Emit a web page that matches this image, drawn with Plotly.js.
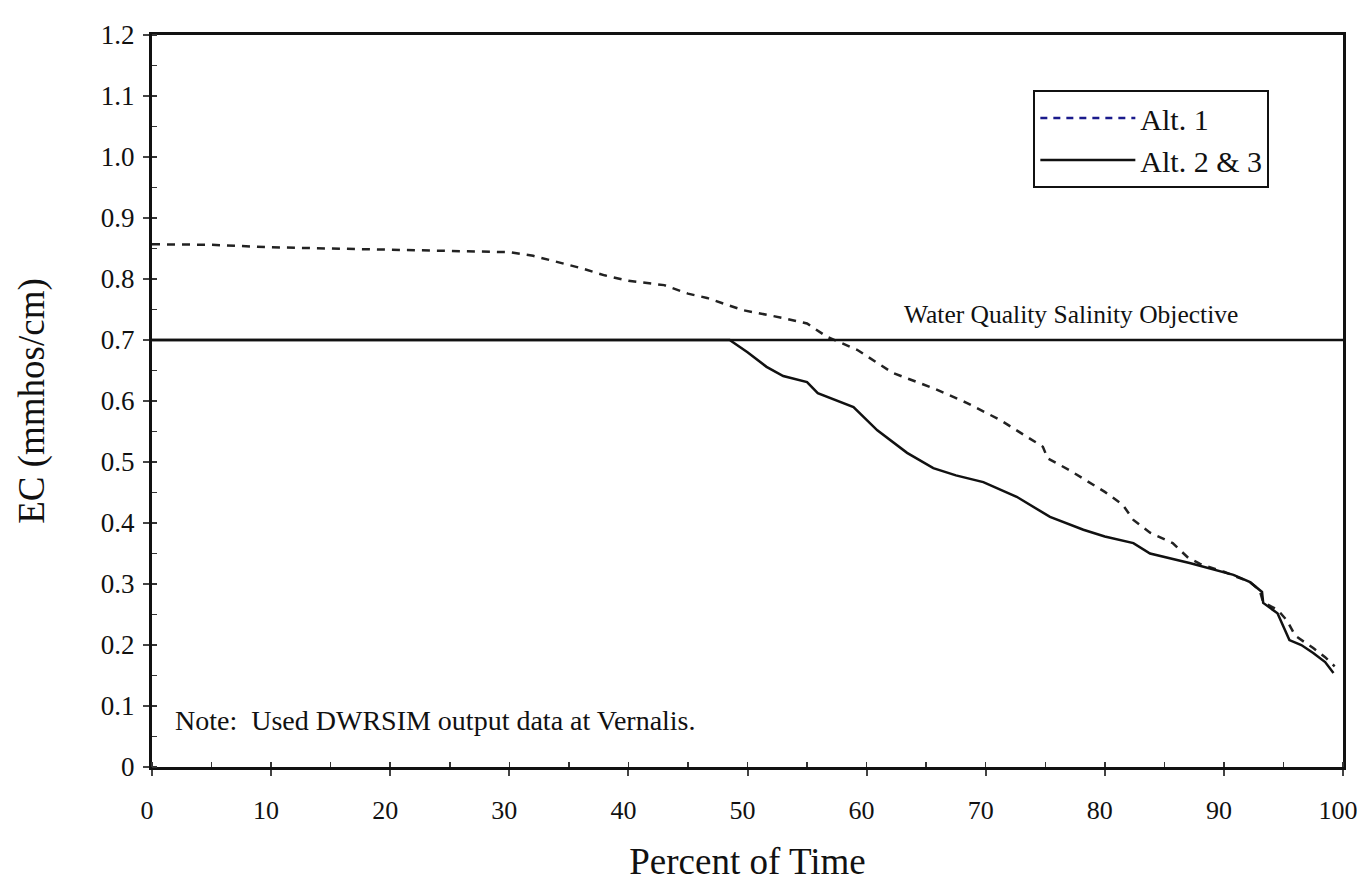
<!DOCTYPE html>
<html>
<head>
<meta charset="utf-8">
<script src="https://cdn.plot.ly/plotly-3.0.1.min.js"></script>
<style>html,body{margin:0;padding:0;background:#fff}#chart{width:1357px;height:882px}</style>
</head>
<body>
<div id="chart"></div>
<script>
// Percent of time (x) and EC values (y)
const alt1X = [0, 5, 10, 15, 20, 25, 30, 32, 34, 36, 38, 40, 43, 45, 46.6, 49.6, 53, 55, 56.7, 59.2, 62.2, 65.6, 68.4, 71.2, 74.8, 75.2, 77, 80, 81.5, 82.4, 83.8, 85.7, 87, 88, 90, 91, 92.2, 93, 93.3, 94.5, 95.3, 96, 97.5, 98.5, 99.3];
const alt1Y = [0.857, 0.856, 0.852, 0.850, 0.849, 0.847, 0.844, 0.838, 0.828, 0.818, 0.806, 0.797, 0.790, 0.776, 0.769, 0.749, 0.736, 0.727, 0.705, 0.684, 0.646, 0.621, 0.597, 0.569, 0.525, 0.506, 0.487, 0.451, 0.430, 0.405, 0.384, 0.367, 0.343, 0.333, 0.320, 0.312, 0.303, 0.290, 0.270, 0.258, 0.240, 0.215, 0.195, 0.180, 0.165];

const alt23X = [0, 10, 20, 30, 40, 48, 48.5, 50, 51.6, 53, 55, 55.9, 57, 58.9, 60.9, 63.4, 65.6, 67.5, 69.8, 72.6, 75.4, 78.2, 80, 82.4, 83.8, 87.2, 90.8, 92.2, 93.2, 93.3, 94.5, 95, 95.5, 96.5, 97.5, 98.5, 99.2];
const alt23Y = [0.700, 0.700, 0.700, 0.700, 0.700, 0.700, 0.700, 0.680, 0.656, 0.641, 0.631, 0.613, 0.605, 0.590, 0.552, 0.515, 0.490, 0.478, 0.467, 0.443, 0.410, 0.389, 0.378, 0.367, 0.350, 0.334, 0.315, 0.303, 0.287, 0.269, 0.252, 0.230, 0.208, 0.200, 0.187, 0.172, 0.154];

const objectiveValue = 0.7;
const objectiveLabel = "Water Quality Salinity Objective";
const noteText = "Note:  Used DWRSIM output data at Vernalis.";
const seriesNames = ["Alt. 1", "Alt. 2 &amp; 3"];
const yTickVals = [0, 0.1, 0.2, 0.3, 0.4, 0.5, 0.6, 0.7, 0.8, 0.9, 1.0, 1.1, 1.2];
const yTickText = ["0", "0.1", "0.2", "0.3", "0.4", "0.5", "0.6", "0.7", "0.8", "0.9", "1.0", "1.1", "1.2"];
const xTickVals = [0, 10, 20, 30, 40, 50, 60, 70, 80, 90, 100];

const font = "Liberation Serif";

const traces = [
  {x: alt1X, y: alt1Y, mode: "lines", name: seriesNames[0], showlegend: false,
   line: {color: "#222", width: 2.5, dash: "8px,7px"}},
  {x: [null], y: [null], mode: "lines", name: seriesNames[0], showlegend: true,
   line: {color: "#1a1a8c", width: 2.5, dash: "7px,6px"}},
  {x: alt23X, y: alt23Y, mode: "lines", name: seriesNames[1], showlegend: true,
   line: {color: "#111", width: 2.5}}
];

const layout = {
  width: 1357, height: 882,
  margin: {l: 152, r: 14, t: 35, b: 115},
  paper_bgcolor: "#fff", plot_bgcolor: "#fff",
  font: {family: font, color: "#111", size: 22},
  xaxis: {
    range: [0, 100], tickvals: xTickVals, ticks: "outside", ticklen: 6, tickwidth: 2,
    showline: true, linecolor: "#111", linewidth: 3, mirror: true, showgrid: false, zeroline: false,
    tickfont: {size: 26, family: font}, ticklabelstandoff: 12, ticklabeloverflow: "allow", ticklabelshift: -5,
    minor: {dtick: 5, ticks: "inside", ticklen: 5, tickwidth: 1.5, tickcolor: "#333"},
    title: {text: "Percent of Time", font: {size: 37, family: font}, standoff: 24}
  },
  yaxis: {
    range: [0, 1.2], tickvals: yTickVals, ticktext: yTickText, ticks: "outside", ticklen: 6, tickwidth: 2,
    showline: true, linecolor: "#111", linewidth: 3, mirror: true, showgrid: false, zeroline: false,
    tickfont: {size: 27, family: font}, ticklabelstandoff: 3, ticklabeloverflow: "allow",
    minor: {dtick: 0.05, ticks: "inside", ticklen: 5, tickwidth: 1.5, tickcolor: "#333"},
    title: {text: "EC (mmhos/cm)", font: {size: 37, family: font}, standoff: 45}
  },
  shapes: [
    {type: "line", xref: "paper", x0: 0, x1: 1, yref: "y", y0: objectiveValue, y1: objectiveValue,
     line: {color: "#111", width: 2.5}}
  ],
  annotations: [
    {xref: "x", yref: "y", x: 77.2, y: objectiveValue, yanchor: "bottom", yshift: 9, xanchor: "center",
     text: objectiveLabel, showarrow: false, font: {size: 25.5, family: font}},
    {xref: "x", yref: "y", x: 1.8, y: 0.077, xanchor: "left", yanchor: "middle",
     text: noteText, showarrow: false, font: {size: 28, family: font}}
  ],
  legend: {
    x: 0.74, y: 0.925, xanchor: "left", yanchor: "top",
    bordercolor: "#111", borderwidth: 2, bgcolor: "#fff",
    font: {size: 30, family: font}, itemwidth: 95, tracegroupgap: 0,
    entrywidth: 260, entrywidthmode: "pixels"
  }
};

Plotly.newPlot("chart", traces, layout, {staticPlot: true});
</script>
</body>
</html>
